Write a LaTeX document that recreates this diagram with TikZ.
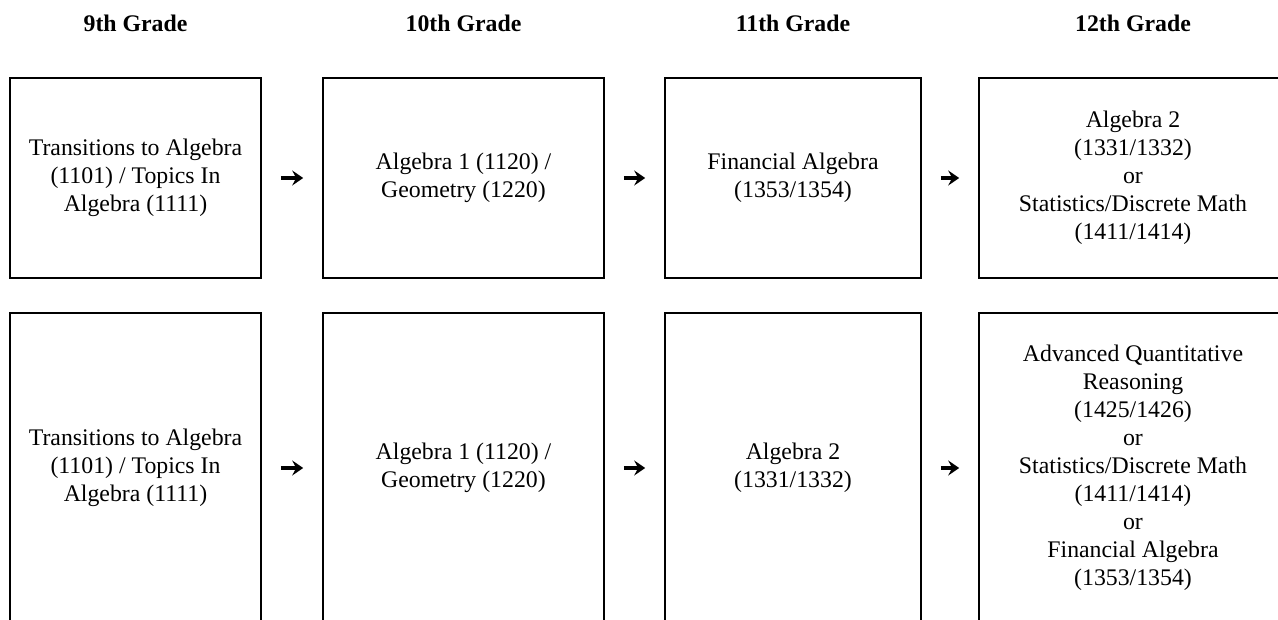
\documentclass[tikz,border=0pt]{standalone}
\usepackage{fontspec}
\setmainfont{Liberation Serif}
\usetikzlibrary{arrows.meta,positioning}

\tikzset{
  grade/.style={anchor=base, font=\fontsize{23.8}{28}\selectfont\bfseries},
  course/.style={draw, line width=1.6pt, align=center, inner sep=0pt,
    font=\fontsize{23.8}{28}\selectfont},
  nextyear/.style={line width=4pt, -{Stealth[length=11pt,width=15pt,inset=4pt]},
    shorten <=19pt, shorten >=19pt}
}

\begin{document}
\begin{tikzpicture}[x=1pt,y=-1pt]

\useasboundingbox (0,0) rectangle (1278,620);
\clip (0,0) rectangle (1278,620);

\node[grade] (h9)  at (135.5,32) {9th Grade};
\node[grade] (h10) at (463.5,32) {10th Grade};
\node[grade] (h11) at (793,32)   {11th Grade};
\node[grade] (h12) at (1133,32)  {12th Grade};

% first track
\node[course, minimum width=251pt, minimum height=200pt] (g9a) at (135.5,178)
  {Transitions to Algebra\\(1101) / Topics In\\Algebra (1111)};
\node[course, minimum width=281pt, minimum height=200pt] (g10a) at (463.5,178)
  {Algebra 1 (1120) /\\Geometry (1220)};
\node[course, minimum width=256pt, minimum height=200pt] (g11a) at (793,178)
  {Financial Algebra\\(1353/1354)};
\node[course, minimum width=308pt, minimum height=200pt] (g12a) at (1133,178)
  {Algebra 2\\(1331/1332)\\or\\Statistics/Discrete Math\\(1411/1414)};

% second track
\node[course, minimum width=251pt, minimum height=310pt] (g9b) at (135.5,468)
  {Transitions to Algebra\\(1101) / Topics In\\Algebra (1111)};
\node[course, minimum width=281pt, minimum height=310pt] (g10b) at (463.5,468)
  {Algebra 1 (1120) /\\Geometry (1220)};
\node[course, minimum width=256pt, minimum height=310pt] (g11b) at (793,468)
  {Algebra 2\\(1331/1332)};
\node[course, minimum width=308pt, minimum height=310pt] (g12b) at (1133,468)
  {Advanced Quantitative\\Reasoning\\(1425/1426)\\or\\Statistics/Discrete Math\\(1411/1414)\\or\\Financial Algebra\\(1353/1354)};

\draw[nextyear] (g9a) -- (g10a);
\draw[nextyear] (g10a) -- (g11a);
\draw[nextyear] (g11a) -- (g12a);

\draw[nextyear] (g9b) -- (g10b);
\draw[nextyear] (g10b) -- (g11b);
\draw[nextyear] (g11b) -- (g12b);

\end{tikzpicture}
\end{document}
